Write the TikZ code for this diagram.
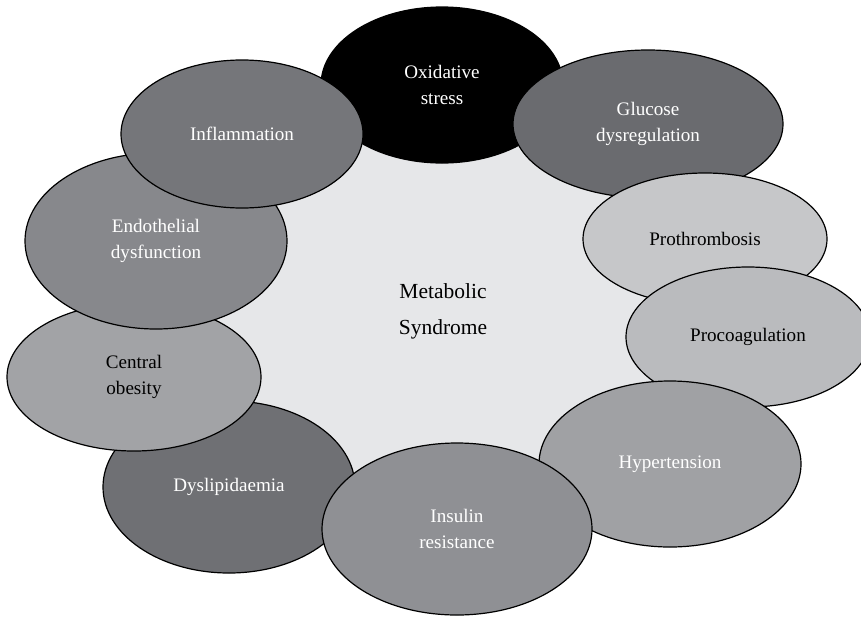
\documentclass[tikz,border=0pt]{standalone}
\usepackage{fontspec}
\setmainfont{Liberation Serif}
\usetikzlibrary{shapes.geometric}
\definecolor{cbg}{HTML}{E6E7E9}
\definecolor{cglu}{HTML}{6A6B6F}
\definecolor{cpro}{HTML}{C6C7C9}
\definecolor{cproc}{HTML}{BABBBE}
\definecolor{chyp}{HTML}{A0A1A4}
\definecolor{cins}{HTML}{8F9094}
\definecolor{cdys}{HTML}{6F7074}
\definecolor{ccen}{HTML}{A2A3A6}
\definecolor{cendo}{HTML}{87888C}
\definecolor{cinfl}{HTML}{75767A}
\begin{document}
\begin{tikzpicture}[x=0.5pt,y=-0.5pt,
  bub/.style={ellipse, draw=black, line width=0.6pt, inner sep=0pt, align=center,
    font=\fontsize{9.55}{12.75}\selectfont},
  darktext/.style={text=white},
  lighttext/.style={text=black}]
\useasboundingbox (0,0) rectangle (861,616);
\clip (0,0) rectangle (861,616);
\fill[white] (0,0) rectangle (861,616);
\node[ellipse, fill=cbg, minimum width=280pt, minimum height=200pt, inner sep=0pt] (bg) at (442,320) {};
\node[bub, fill=black, darktext, minimum width=121pt, minimum height=78pt] (ox) at (442,85) {Oxidative\\stress};
\node[bub, fill=cglu, darktext, minimum width=135pt, minimum height=74pt] (glu) at (648,124) {Glucose\\dysregulation};
\node[bub, fill=cpro, lighttext, minimum width=122pt, minimum height=66pt] (pro) at (705,239) {Prothrombosis};
\node[bub, fill=cproc, lighttext, minimum width=122pt, minimum height=70pt] (proc) at (748,337) {Procoagulation};
\node[bub, fill=chyp, darktext, minimum width=131pt, minimum height=83pt] (hyp) at (670,464) {Hypertension};
\node[bub, fill=cdys, darktext, minimum width=126pt, minimum height=86pt] (dys) at (229,487) {Dyslipidaemia};
\node[bub, fill=cins, darktext, minimum width=135pt, minimum height=86pt] (ins) at (457,529) {Insulin\\resistance};
\node[bub, fill=ccen, lighttext, minimum width=127pt, minimum height=74pt] (cen) at (134,377) {Central\\obesity};
\node[bub, fill=cendo, darktext, minimum width=131pt, minimum height=88pt] (endo) at (156,241) {Endothelial\\dysfunction};
\node[bub, fill=cinfl, darktext, minimum width=121pt, minimum height=74pt] (infl) at (242,134) {Inflammation};
\node[align=center, inner sep=0pt, font=\fontsize{10.75}{18}\selectfont] (ms) at (443,311) {Metabolic\\Syndrome};
\end{tikzpicture}
\end{document}
